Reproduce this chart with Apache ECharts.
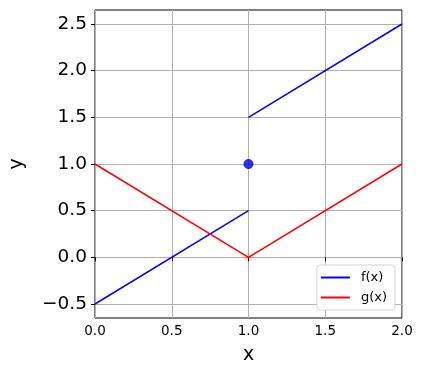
<!DOCTYPE html>
<html>
<head>
<meta charset="utf-8">
<script src="https://cdn.jsdelivr.net/npm/echarts@6/dist/echarts.min.js"></script>
<style>
  html, body { margin: 0; padding: 0; background: #fff; }
  #main { width: 422px; height: 376px; }
</style>
</head>
<body>
<div id="main"></div>
<script>
// f(x): two pieces with a jump at x = 1
const fLeftX = [0, 1]
const fLeftY = [-0.5, 0.5]
const fRightX = [1, 2]
const fRightY = [1.5, 2.5]
// g(x) = |x - 1|
const gX = [0, 1, 2]
const gY = [1, 0, 1]
// f(1) point and the faint hole of g at x = 1
const fDot = [1, 1]
const gHole = [1, 0]
const yTicks = [-0.5, 0, 0.5, 1, 1.5, 2, 2.5]

const font = 'DejaVu Sans'

// join the two pieces with a gap so it stays one legend entry
let fData = fLeftX.map((x, i) => [x, fLeftY[i]])
fData.push([1, '-'])
fData = fData.concat(fRightX.map((x, i) => [x, fRightY[i]]))
const gData = gX.map((x, i) => [x, gY[i]])

let myChart = echarts.init(document.getElementById('main'))
myChart.setOption({
  animation: false,
  grid: {
    left: 92,
    right: 20,
    top: 10,
    bottom: 58,
    show: true,
    borderColor: '#000',
    borderWidth: 1
  },
  legend: {
    data: ['f(x)', 'g(x)'],
    orient: 'vertical',
    right: 27,
    bottom: 66,
    icon: 'rect',
    itemWidth: 29,
    itemHeight: 2,
    itemGap: 7,
    padding: [6, 8, 6, 4],
    backgroundColor: '#fff',
    borderColor: '#d5d5d5',
    borderWidth: 1,
    borderRadius: 3,
    textStyle: {
      fontFamily: font,
      fontSize: 13,
      color: '#000',
      padding: [0, 0, 0, 6]
    }
  },
  xAxis: {
    type: 'value',
    min: 0,
    max: 2,
    interval: 0.5,
    name: 'x',
    nameLocation: 'middle',
    nameGap: 28,
    nameTextStyle: { fontFamily: font, fontSize: 19, color: '#000' },
    axisLine: { show: false },
    axisTick: { show: true, length: 4, lineStyle: { color: '#000' } },
    axisLabel: {
      fontFamily: font,
      fontSize: 13.5,
      color: '#000',
      margin: 6,
      formatter: (v) => v.toFixed(1)
    },
    splitLine: { show: true, lineStyle: { color: '#b0b0b0', width: 1 } }
  },
  yAxis: {
    type: 'value',
    min: -0.65,
    max: 2.65,
    name: 'y',
    nameLocation: 'middle',
    nameGap: 68,
    nameTextStyle: { fontFamily: font, fontSize: 19, color: '#000' },
    axisLine: { show: false },
    axisTick: {
      show: true,
      length: 4,
      customValues: yTicks,
      lineStyle: { color: '#000' }
    },
    axisLabel: {
      fontFamily: font,
      fontSize: 18.5,
      color: '#000',
      margin: 8,
      customValues: yTicks,
      formatter: (v) => (v < 0 ? '\u2212' + (-v).toFixed(1) : v.toFixed(1))
    },
    splitLine: { show: true, lineStyle: { color: '#b0b0b0', width: 1 } }
  },
  series: [
    {
      name: 'f(x)',
      type: 'line',
      data: fData,
      showSymbol: false,
      connectNulls: false,
      color: '#0000ff',
      lineStyle: { width: 1.5, color: '#0000ff' },
      z: 3
    },
    {
      name: 'g(x)',
      type: 'line',
      data: gData,
      showSymbol: false,
      color: '#ff0000',
      lineStyle: { width: 1.5, color: '#ff0000' },
      z: 3
    },
    {
      name: 'f dot',
      type: 'scatter',
      data: [fDot],
      symbolSize: 9,
      itemStyle: { color: '#0000ff', borderColor: '#0000cc', borderWidth: 1 },
      z: 4
    },
    {
      name: 'g hole',
      type: 'scatter',
      data: [gHole],
      symbolSize: 9,
      itemStyle: { color: 'rgba(255,0,0,0.18)' },
      z: 4
    }
  ]
})
</script>
</body>
</html>
